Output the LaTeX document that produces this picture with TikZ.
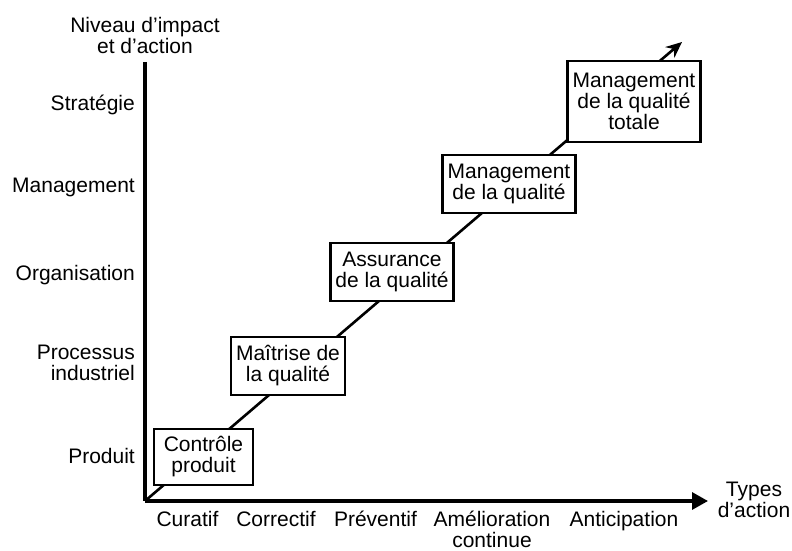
\documentclass[tikz,border=0pt]{standalone}
\usepackage{fontspec}
\setmainfont{Liberation Sans}
\usetikzlibrary{arrows.meta}

\tikzset{
  stage/.style={draw=black, fill=white, line width=2.6pt, align=center, inner sep=5pt, minimum height=58pt},
  level/.style={inner sep=0pt, align=right},
  kind/.style={anchor=north, inner sep=0pt, align=center},
}

\begin{document}
\begin{tikzpicture}[x=1pt, y=-1pt, font=\fontsize{21}{21}\selectfont]
    \useasboundingbox (0,0) rectangle (792,551);

    \coordinate (origin) at (145,501);
    \coordinate (ytop) at (145,62);
    \coordinate (xend) at (708,501);
    \coordinate (tip) at (682,42);

    % axes and the rising line
    \draw[line width=2.6pt, -{Stealth[length=16pt,width=14pt]}] (origin) -- (tip);
    \draw[line width=3.2pt] (ytop) -- (origin);
    \draw[line width=3.2pt, -{Triangle[length=16pt,width=17pt]}] (origin) -- (xend);

    \node[stage, minimum width=99pt, minimum height=56pt] (controle) at (203.5,457) {Contrôle\\produit};
    \node[stage] (maitrise) at (288,366) {Maîtrise de\\la qualité};
    \node[stage] (assurance) at (392,272) {Assurance\\de la qualité};
    \node[stage] (mq) at (509,184) {Management\\de la qualité};
    \node[stage, minimum height=81pt] (mqt) at (634,101.5) {Management\\de la qualité\\totale};

    \node[kind] (niveau) at (145,17) {Niveau d’impact\\et d’action};
    \node[level, anchor=base east] (strategie) at (135,110) {Stratégie};
    \node[level, anchor=base east] (management) at (135,192) {Management};
    \node[level, anchor=base east] (organisation) at (135,280) {Organisation};
    \node[level, anchor=east] (processus) at (135,363) {Processus\\industriel};
    \node[level, anchor=base east] (produit) at (135,463) {Produit};

    \node[kind] (curatif) at (187.5,511) {Curatif};
    \node[kind] (correctif) at (276,511) {Correctif};
    \node[kind] (preventif) at (375.5,511) {Préventif};
    \node[kind] (amelioration) at (492,511) {Amélioration\\continue};
    \node[kind] (anticipation) at (624,511) {Anticipation};
    \node[kind] (types) at (754,482) {Types\\d’action};
\end{tikzpicture}
\end{document}
